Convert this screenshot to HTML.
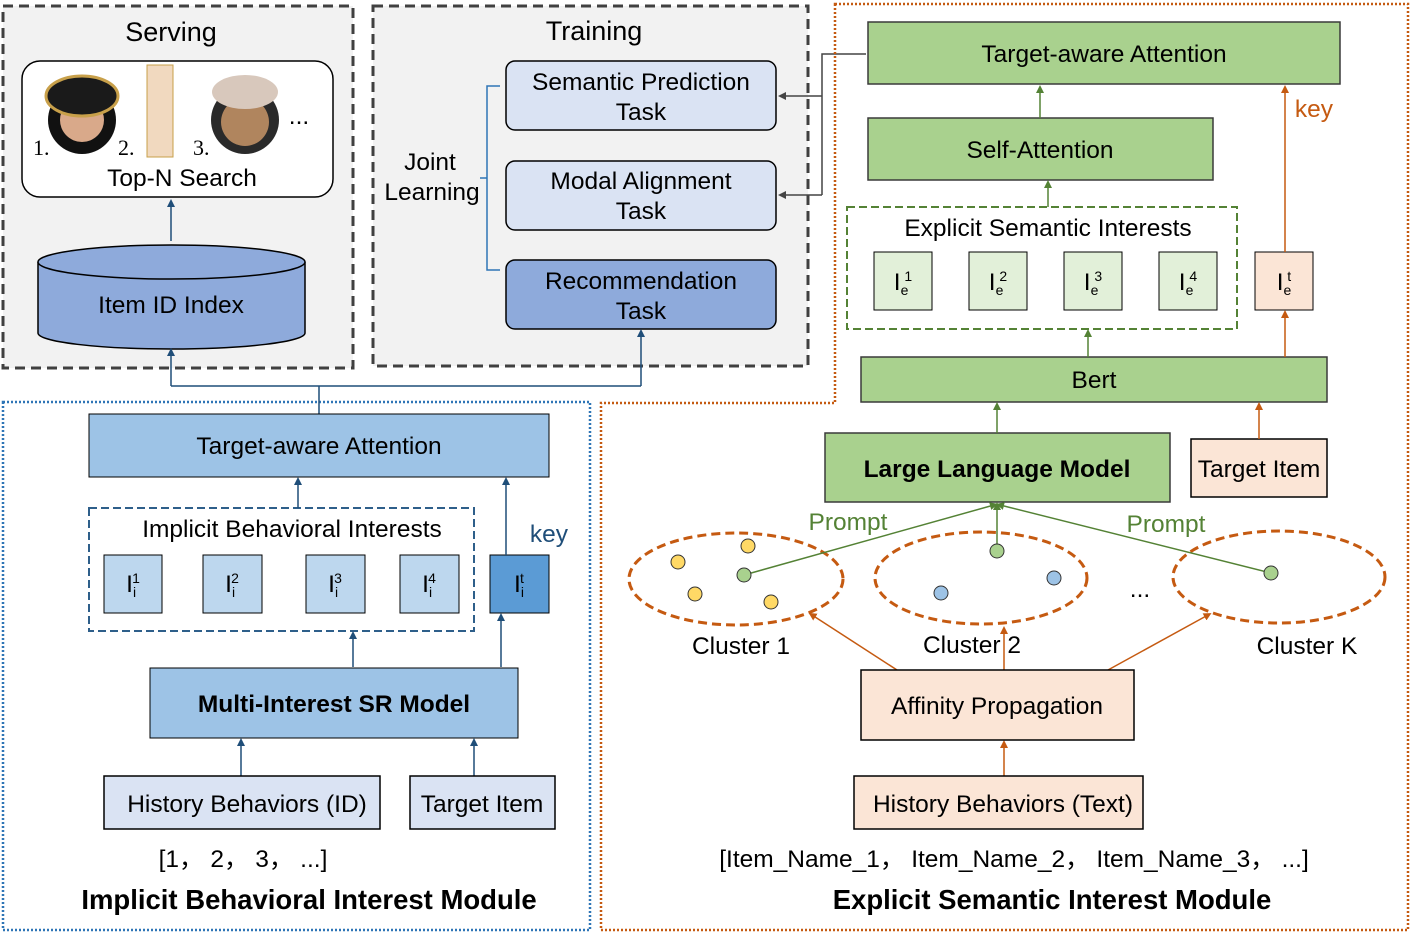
<!DOCTYPE html>
<html><head><meta charset="utf-8"><style>
html,body{margin:0;padding:0;background:#fff}
svg{display:block}
text{font-family:"Liberation Sans","Noto Sans CJK SC",sans-serif;font-size:24.5px;fill:#000}
</style></head><body>
<svg width="1411" height="933" viewBox="0 0 1411 933" xmlns="http://www.w3.org/2000/svg">
<defs>
<marker id="ab" markerWidth="8" markerHeight="8" refX="4" refY="4" orient="auto" markerUnits="userSpaceOnUse"><path d="M0,0 L8,4 L0,8 z" fill="#1f4e79"/></marker>
<marker id="ag" markerWidth="8" markerHeight="8" refX="4" refY="4" orient="auto" markerUnits="userSpaceOnUse"><path d="M0,0 L8,4 L0,8 z" fill="#548235"/></marker>
<marker id="ao" markerWidth="8" markerHeight="8" refX="4" refY="4" orient="auto" markerUnits="userSpaceOnUse"><path d="M0,0 L8,4 L0,8 z" fill="#c55a11"/></marker>
<marker id="ak" markerWidth="8" markerHeight="8" refX="4" refY="4" orient="auto" markerUnits="userSpaceOnUse"><path d="M0,0 L8,4 L0,8 z" fill="#444"/></marker>
</defs>

<!-- Serving panel -->
<rect x="3" y="6" width="350" height="362" fill="#f2f2f2" stroke="#404040" stroke-width="3" stroke-dasharray="10,6"/>
<text x="171" y="41" text-anchor="middle" style="font-size:27px">Serving</text>
<rect x="22" y="61" width="311" height="136" rx="18" fill="#fff" stroke="#000" stroke-width="1.5"/>
<circle cx="82" cy="120" r="34" fill="#111"/><circle cx="82" cy="120" r="22" fill="#d9a98a"/>
<ellipse cx="82" cy="96" rx="36" ry="20" fill="#1a1a1a" stroke="#c8a04a" stroke-width="3"/>
<rect x="147" y="65" width="26" height="92" fill="#f1d9bf" stroke="#c8a04a"/>
<circle cx="245" cy="120" r="34" fill="#2a2a2a"/><circle cx="245" cy="122" r="24" fill="#b0855e"/>
<ellipse cx="245" cy="92" rx="33" ry="17" fill="#d8c8bc"/>
<text x="33" y="155" style="font-family:'Liberation Serif',serif;font-size:22px">1.</text>
<text x="118" y="155" style="font-family:'Liberation Serif',serif;font-size:22px">2.</text>
<text x="193" y="155" style="font-family:'Liberation Serif',serif;font-size:22px">3.</text>
<text x="299" y="124" text-anchor="middle">...</text>
<text x="182" y="186" text-anchor="middle">Top-N Search</text>
<path d="M38,262 L38,333 A133.5,16 0 0 0 305,333 L305,262" fill="#8eaadb" stroke="#000" stroke-width="1.5"/>
<ellipse cx="171.5" cy="262" rx="133.5" ry="17" fill="#8eaadb" stroke="#000" stroke-width="1.5"/>
<text x="171" y="313" text-anchor="middle">Item ID Index</text>
<line x1="171" y1="241" x2="171" y2="203" stroke="#1f4e79" stroke-width="1.5" marker-end="url(#ab)"/>

<!-- Training panel -->
<rect x="373" y="6" width="435" height="360" fill="#f2f2f2" stroke="#404040" stroke-width="3" stroke-dasharray="10,6"/>
<text x="594" y="40" text-anchor="middle" style="font-size:27px">Training</text>
<rect x="506" y="61" width="270" height="69" rx="9" fill="#dae3f3" stroke="#000" stroke-width="1.5"/>
<text x="641" y="90" text-anchor="middle">Semantic Prediction</text><text x="641" y="120" text-anchor="middle">Task</text>
<rect x="506" y="161" width="270" height="69" rx="9" fill="#dae3f3" stroke="#000" stroke-width="1.5"/>
<text x="641" y="189" text-anchor="middle">Modal Alignment</text><text x="641" y="219" text-anchor="middle">Task</text>
<rect x="506" y="260" width="270" height="69" rx="9" fill="#8eaadb" stroke="#000" stroke-width="1.5"/>
<text x="641" y="289" text-anchor="middle">Recommendation</text><text x="641" y="319" text-anchor="middle">Task</text>
<path d="M500,86 L487,86 L487,270 L500,270 M487,178 L480,178" fill="none" stroke="#2e75b6" stroke-width="1.5"/>
<text x="430" y="170" text-anchor="middle">Joint</text><text x="432" y="200" text-anchor="middle">Learning</text>
<path d="M866,54 L822,54 L822,195" fill="none" stroke="#444" stroke-width="1.5"/>
<line x1="822" y1="96" x2="782" y2="96" stroke="#444" stroke-width="1.5" marker-end="url(#ak)"/>
<line x1="822" y1="195" x2="782" y2="195" stroke="#444" stroke-width="1.5" marker-end="url(#ak)"/>

<!-- module borders -->
<rect x="3" y="402" width="587" height="528" fill="none" stroke="#2e75b6" stroke-width="2.5" stroke-dasharray="2,2"/>
<path d="M835,4 L1408,4 L1408,930 L601,930 L601,403 L835,403 Z" fill="none" stroke="#c55a11" stroke-width="2.5" stroke-dasharray="2,2"/>

<!-- blue connector -->
<path d="M319,414 L319,386 M171,386 L641,386" fill="none" stroke="#1f4e79" stroke-width="1.5"/>
<line x1="171" y1="386" x2="171" y2="352" stroke="#1f4e79" stroke-width="1.5" marker-end="url(#ab)"/>
<line x1="641" y1="386" x2="641" y2="333" stroke="#1f4e79" stroke-width="1.5" marker-end="url(#ab)"/>

<!-- Left module -->
<rect x="89" y="414" width="460" height="63" fill="#9dc3e6" stroke="#000" stroke-width="1"/>
<text x="319" y="454" text-anchor="middle">Target-aware Attention</text>
<rect x="89" y="508" width="385" height="123" fill="none" stroke="#2e5f8a" stroke-width="2" stroke-dasharray="8,4"/>
<text x="292" y="537" text-anchor="middle">Implicit Behavioral Interests</text>
<g stroke="#000" stroke-width="1" fill="#bdd7ee">
<rect x="104" y="555" width="58" height="58"/><rect x="203" y="555" width="59" height="58"/><rect x="306" y="555" width="59" height="58"/><rect x="400" y="555" width="59" height="58"/>
</g>
<rect x="490" y="555" width="59" height="58" fill="#5b9bd5" stroke="#000"/>
<g text-anchor="middle">
<text x="133" y="592">I<tspan dy="5" style="font-size:14px">i</tspan><tspan dy="-14" dx="-4" style="font-size:14px">1</tspan></text>
<text x="232" y="592">I<tspan dy="5" style="font-size:14px">i</tspan><tspan dy="-14" dx="-4" style="font-size:14px">2</tspan></text>
<text x="335" y="592">I<tspan dy="5" style="font-size:14px">i</tspan><tspan dy="-14" dx="-4" style="font-size:14px">3</tspan></text>
<text x="429" y="592">I<tspan dy="5" style="font-size:14px">i</tspan><tspan dy="-14" dx="-4" style="font-size:14px">4</tspan></text>
<text x="519" y="592">I<tspan dy="5" style="font-size:14px">i</tspan><tspan dy="-14" dx="-4" style="font-size:14px">t</tspan></text>
</g>
<text x="549" y="542" text-anchor="middle" style="fill:#1f4e79">key</text>
<line x1="298" y1="508" x2="298" y2="481" stroke="#1f4e79" stroke-width="1.5" marker-end="url(#ab)"/>
<line x1="506" y1="555" x2="506" y2="481" stroke="#1f4e79" stroke-width="1.5" marker-end="url(#ab)"/>
<line x1="353" y1="667" x2="353" y2="635" stroke="#1f4e79" stroke-width="1.5" marker-end="url(#ab)"/>
<line x1="501" y1="667" x2="501" y2="617" stroke="#1f4e79" stroke-width="1.5" marker-end="url(#ab)"/>
<rect x="150" y="668" width="368" height="70" fill="#9dc3e6" stroke="#000" stroke-width="1"/>
<text x="334" y="712" text-anchor="middle" style="font-weight:bold">Multi-Interest SR Model</text>
<line x1="241" y1="776" x2="241" y2="742" stroke="#1f4e79" stroke-width="1.5" marker-end="url(#ab)"/>
<line x1="474" y1="776" x2="474" y2="742" stroke="#1f4e79" stroke-width="1.5" marker-end="url(#ab)"/>
<rect x="104" y="776" width="276" height="53" fill="#dae3f3" stroke="#000" stroke-width="1.5"/>
<text x="247" y="812" text-anchor="middle">History Behaviors (ID)</text>
<rect x="410" y="776" width="145" height="53" fill="#dae3f3" stroke="#000" stroke-width="1.5"/>
<text x="482" y="812" text-anchor="middle">Target Item</text>
<text x="243" y="867" text-anchor="middle">[1， 2， 3， ...]</text>
<text x="309" y="909" text-anchor="middle" style="font-size:27.5px;font-weight:bold">Implicit Behavioral Interest Module</text>

<!-- Right module -->
<rect x="868" y="22" width="472" height="62" fill="#a9d18e" stroke="#3a3a3a" stroke-width="1.5"/>
<text x="1104" y="62" text-anchor="middle">Target-aware Attention</text>
<rect x="868" y="118" width="345" height="62" fill="#a9d18e" stroke="#3a3a3a" stroke-width="1.5"/>
<text x="1040" y="158" text-anchor="middle">Self-Attention</text>
<line x1="1040" y1="118" x2="1040" y2="89" stroke="#548235" stroke-width="1.5" marker-end="url(#ag)"/>
<rect x="847" y="207" width="390" height="122" fill="none" stroke="#548235" stroke-width="2" stroke-dasharray="8,4"/>
<text x="1048" y="236" text-anchor="middle">Explicit Semantic Interests</text>
<line x1="1048" y1="207" x2="1048" y2="184" stroke="#548235" stroke-width="1.5" marker-end="url(#ag)"/>
<g stroke="#000" stroke-width="1" fill="#e2f0d9">
<rect x="874" y="252" width="58" height="58"/><rect x="969" y="252" width="58" height="58"/><rect x="1064" y="252" width="58" height="58"/><rect x="1159" y="252" width="58" height="58"/>
</g>
<rect x="1255" y="252" width="58" height="58" fill="#fbe5d6" stroke="#000"/>
<g text-anchor="middle">
<text x="903" y="290">I<tspan dy="5" style="font-size:14px">e</tspan><tspan dy="-14" dx="-4" style="font-size:14px">1</tspan></text>
<text x="998" y="290">I<tspan dy="5" style="font-size:14px">e</tspan><tspan dy="-14" dx="-4" style="font-size:14px">2</tspan></text>
<text x="1093" y="290">I<tspan dy="5" style="font-size:14px">e</tspan><tspan dy="-14" dx="-4" style="font-size:14px">3</tspan></text>
<text x="1188" y="290">I<tspan dy="5" style="font-size:14px">e</tspan><tspan dy="-14" dx="-4" style="font-size:14px">4</tspan></text>
<text x="1284" y="290">I<tspan dy="5" style="font-size:14px">e</tspan><tspan dy="-14" dx="-4" style="font-size:14px">t</tspan></text>
</g>
<text x="1314" y="117" text-anchor="middle" style="fill:#c55a11">key</text>
<line x1="1285" y1="252" x2="1285" y2="89" stroke="#c55a11" stroke-width="1.5" marker-end="url(#ao)"/>
<rect x="861" y="357" width="466" height="45" fill="#a9d18e" stroke="#3a3a3a" stroke-width="1.5"/>
<text x="1094" y="388" text-anchor="middle">Bert</text>
<line x1="1088" y1="357" x2="1088" y2="333" stroke="#548235" stroke-width="1.5" marker-end="url(#ag)"/>
<line x1="1285" y1="357" x2="1285" y2="314" stroke="#c55a11" stroke-width="1.5" marker-end="url(#ao)"/>
<rect x="825" y="433" width="345" height="69" fill="#a9d18e" stroke="#3a3a3a" stroke-width="1.5"/>
<text x="997" y="477" text-anchor="middle" style="font-weight:bold">Large Language Model</text>
<line x1="997" y1="433" x2="997" y2="406" stroke="#548235" stroke-width="1.5" marker-end="url(#ag)"/>
<rect x="1191" y="439" width="136" height="58" fill="#fbe5d6" stroke="#000" stroke-width="1.5"/>
<text x="1259" y="477" text-anchor="middle">Target Item</text>
<line x1="1259" y1="439" x2="1259" y2="406" stroke="#c55a11" stroke-width="1.5" marker-end="url(#ao)"/>

<g fill="none" stroke="#c55a11" stroke-width="3" stroke-dasharray="9,5">
<ellipse cx="736" cy="579" rx="107" ry="46"/><ellipse cx="981" cy="578" rx="106" ry="46"/><ellipse cx="1279" cy="577" rx="106" ry="46"/>
</g>
<g stroke="#548235" stroke-width="1.5" fill="none">
<line x1="744" y1="575" x2="994" y2="505" marker-end="url(#ag)"/>
<line x1="997" y1="551" x2="997" y2="506" marker-end="url(#ag)"/>
<line x1="1271" y1="573" x2="1000" y2="505" marker-end="url(#ag)"/>
</g>
<g stroke="#333" stroke-width="1">
<circle cx="678" cy="562" r="7" fill="#ffd966"/><circle cx="748" cy="546" r="7" fill="#ffd966"/><circle cx="695" cy="594" r="7" fill="#ffd966"/><circle cx="771" cy="602" r="7" fill="#ffd966"/>
<circle cx="744" cy="575" r="7" fill="#a9d18e"/><circle cx="997" cy="551" r="7" fill="#a9d18e"/><circle cx="1271" cy="573" r="7" fill="#a9d18e"/>
<circle cx="941" cy="593" r="7" fill="#9dc3e6"/><circle cx="1054" cy="578" r="7" fill="#9dc3e6"/>
</g>
<text x="848" y="530" text-anchor="middle" style="fill:#548235">Prompt</text>
<text x="1166" y="532" text-anchor="middle" style="fill:#548235">Prompt</text>
<text x="1140" y="597" text-anchor="middle">...</text>
<text x="741" y="654" text-anchor="middle">Cluster 1</text>
<text x="972" y="653" text-anchor="middle">Cluster 2</text>
<text x="1307" y="654" text-anchor="middle">Cluster K</text>
<g stroke="#c55a11" stroke-width="1.5">
<line x1="897" y1="670" x2="812" y2="615" marker-end="url(#ao)"/>
<line x1="1004" y1="670" x2="1004" y2="630" marker-end="url(#ao)"/>
<line x1="1108" y1="670" x2="1208" y2="615" marker-end="url(#ao)"/>
<line x1="1004" y1="776" x2="1004" y2="744" marker-end="url(#ao)"/>
</g>
<rect x="861" y="670" width="273" height="70" fill="#fbe5d6" stroke="#000" stroke-width="1.5"/>
<text x="997" y="714" text-anchor="middle">Affinity Propagation</text>
<rect x="854" y="776" width="289" height="53" fill="#fbe5d6" stroke="#000" stroke-width="1.5"/>
<text x="1003" y="812" text-anchor="middle">History Behaviors (Text)</text>
<text x="1014" y="867" text-anchor="middle">[Item_Name_1， Item_Name_2， Item_Name_3， ...]</text>
<text x="1052" y="909" text-anchor="middle" style="font-size:27.5px;font-weight:bold">Explicit Semantic Interest Module</text>
</svg>
</body></html>
